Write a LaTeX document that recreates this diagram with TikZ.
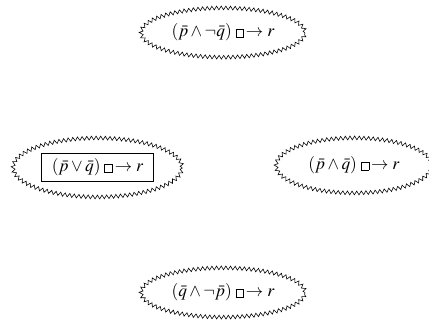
\documentclass[tikz,border=0pt]{standalone}
\usepackage{amssymb}
\usepackage{mathptmx}
\usetikzlibrary{shapes.geometric,decorations.pathmorphing}
\newcommand{\cfbox}{{\setlength{\fboxsep}{0pt}\fbox{\rule{0pt}{5pt}\rule{5pt}{0pt}}}}
\newcommand{\cfarrow}{\mathrel{\cfbox\mkern-2mu\rightarrow}}
\begin{document}
\begin{tikzpicture}[font=\fontsize{12}{14}\selectfont,
	zz/.style={ellipse,draw,inner sep=0pt,minimum width=113pt,minimum height=34pt,decorate,decoration={zigzag,segment length=3.2pt,amplitude=1.3pt}}]
	\useasboundingbox (-5.405,-3.817) rectangle (4.993,3.94);
	\node[zz] (top) at (0,3.15) {$(\bar{p}\wedge\neg\bar{q})\cfarrow r$};
	\node[zz,minimum width=116.5pt,minimum height=40.7pt] (left) at (-3.04,-0.12) {\setlength{\fboxsep}{3.5pt}\fbox{\kern3.5pt$(\bar{p}\vee\bar{q})\cfarrow r$\kern3.5pt}};
	\node[zz,minimum width=107.5pt,minimum height=38pt] (right) at (3.175,-0.07) {$(\bar{p}\wedge\bar{q})\cfarrow r$};
	\node[zz] (bottom) at (0,-3.15) {$(\bar{q}\wedge\neg\bar{p})\cfarrow r$};
\end{tikzpicture}
\end{document}
